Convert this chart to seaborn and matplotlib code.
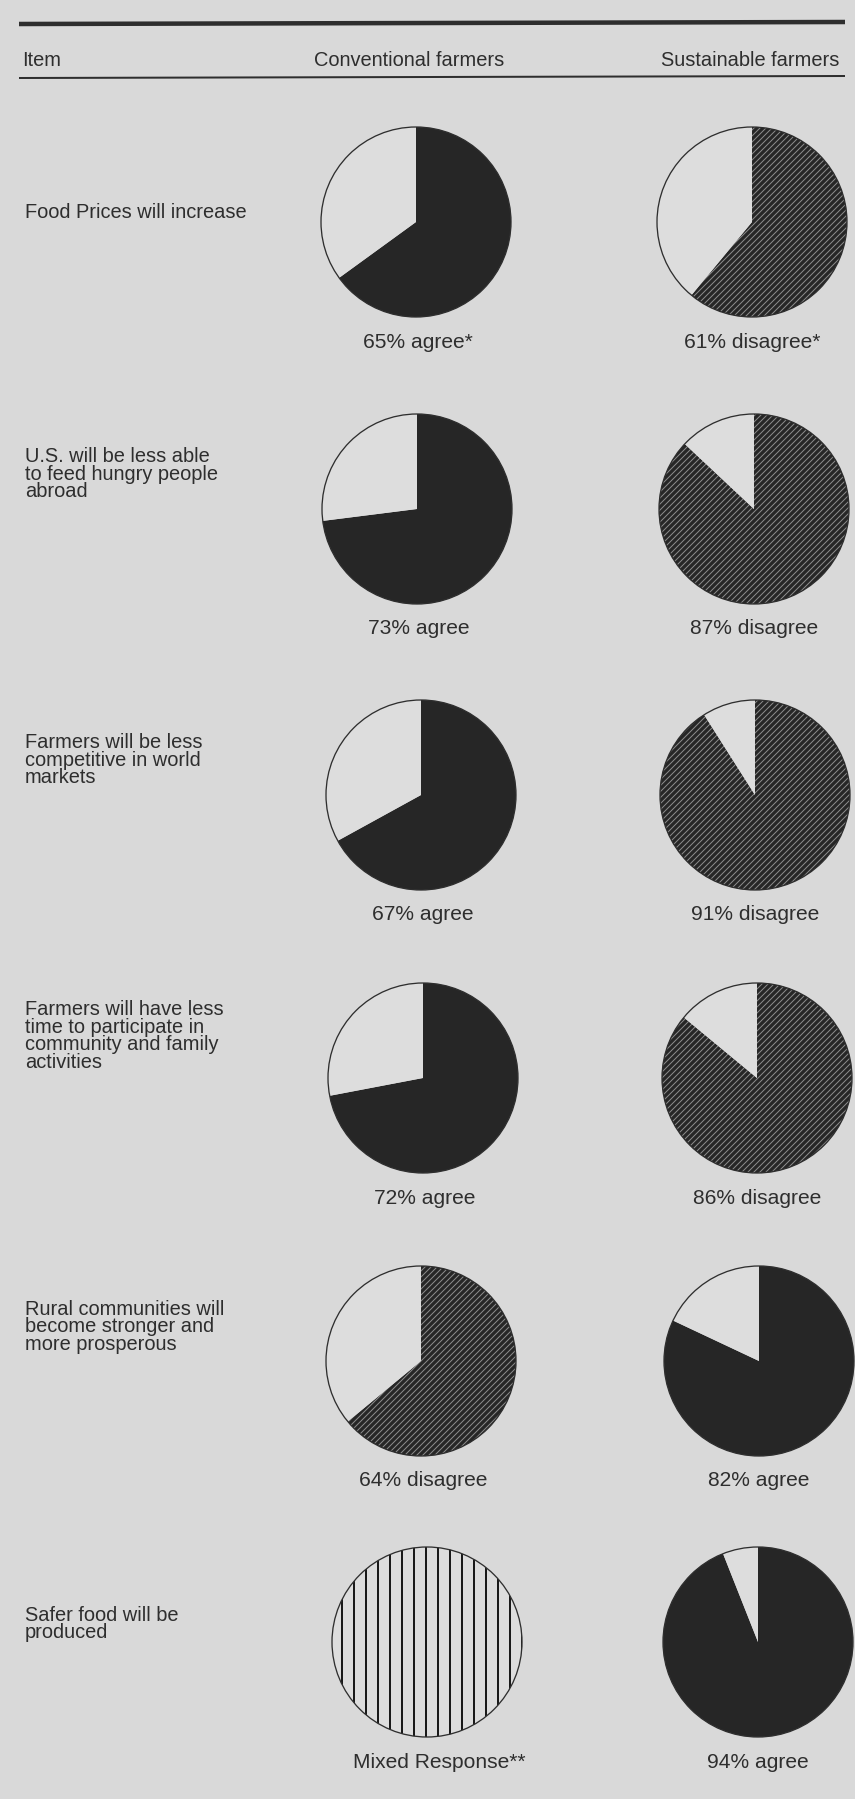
import matplotlib
matplotlib.use('Agg')
import matplotlib.pyplot as plt
import seaborn as sns

# ---- data ----
headers = ['Item', 'Conventional farmers', 'Sustainable farmers']
items = [
    'Food Prices will increase',
    'U.S. will be less able\nto feed hungry people\nabroad',
    'Farmers will be less\ncompetitive in world\nmarkets',
    'Farmers will have less\ntime to participate in\ncommunity and family\nactivities',
    'Rural communities will\nbecome stronger and\nmore prosperous',
    'Safer food will be\nproduced',
]
conv_pct = [65, 73, 67, 72, 64, 100]
conv_resp = ['agree', 'agree', 'agree', 'agree', 'disagree', 'mixed']
conv_text = ['65% agree*', '73% agree', '67% agree', '72% agree',
             '64% disagree', 'Mixed Response**']
sust_pct = [61, 87, 91, 86, 82, 94]
sust_resp = ['disagree', 'disagree', 'disagree', 'disagree', 'agree', 'agree']
sust_text = ['61% disagree*', '87% disagree', '91% disagree', '86% disagree',
             '82% agree', '94% agree']

# ---- layout (pixels, measured from the top) ----
W, H = 855, 1799
row_y = [222, 509, 795, 1078, 1361, 1642]
item_y = [213, 474, 760, 1036, 1327, 1624]
conv_x = [416, 417, 421, 423, 421, 427]
sust_x = [752, 754, 755, 757, 759, 758]
R = 95
LABEL_GAP = 120

BG = '#d9d9d9'
PALE = '#dddddd'
DARK = '#262626'
INK = '#2e2e2e'

sns.set_style('white', {'axes.facecolor': BG, 'figure.facecolor': BG})
plt.rcParams['font.family'] = ['Liberation Sans', 'DejaVu Sans']

styles = {
    'agree': dict(facecolor=DARK, edgecolor=DARK, hatch=None, hlw=1.0),
    'disagree': dict(facecolor=DARK, edgecolor='#8c8c8c', hatch='////', hlw=1.0),
    'mixed': dict(facecolor=PALE, edgecolor='#1a1a1a', hatch='|', hlw=2.0),
}

fig = plt.figure(figsize=(W / 72, H / 72), dpi=72)
ax = fig.add_axes([0, 0, 1, 1])


def draw_pie(x, y, pct, resp):
    cy = H - y
    st = styles[resp]
    vals = [pct] if resp == 'mixed' else [pct, 100 - pct]
    with plt.rc_context({'hatch.linewidth': st['hlw']}):
        wedges, _ = ax.pie(vals, center=(x, cy), radius=R, startangle=90,
                           counterclock=False, frame=True,
                           wedgeprops=dict(linewidth=0))
        wedges[0].set_facecolor(st['facecolor'])
        wedges[0].set_edgecolor(st['edgecolor'])
        wedges[0].set_linewidth(0)
        if st['hatch']:
            wedges[0].set_hatch(st['hatch'])
    if len(wedges) > 1:
        wedges[1].set_facecolor(PALE)
        wedges[1].set_edgecolor(PALE)
    ax.add_patch(plt.Circle((x, cy), R, fill=False, edgecolor=INK, lw=1.3))


for i in range(len(items)):
    draw_pie(conv_x[i], row_y[i], conv_pct[i], conv_resp[i])
    draw_pie(sust_x[i], row_y[i], sust_pct[i], sust_resp[i])
    ax.text(25, H - item_y[i], items[i], fontsize=20, color=INK,
            ha='left', va='center', linespacing=0.9)
    ax.text(conv_x[i] + (12 if conv_resp[i] == 'mixed' else 2),
            H - row_y[i] - LABEL_GAP, conv_text[i], fontsize=21,
            color=INK, ha='center', va='center')
    ax.text(sust_x[i], H - row_y[i] - LABEL_GAP, sust_text[i],
            fontsize=21, color=INK, ha='center', va='center')

# header rules and column titles
ax.plot([19, 845], [H - 24, H - 22], color=INK, lw=4.5, solid_capstyle='butt')
ax.plot([19, 845], [H - 78, H - 76], color=INK, lw=2, solid_capstyle='butt')
ax.text(22, H - 61, headers[0], fontsize=20, color=INK, ha='left', va='center')
ax.text(409, H - 61, headers[1], fontsize=20, color=INK, ha='center', va='center')
ax.text(750, H - 61, headers[2], fontsize=20, color=INK, ha='center', va='center')

ax.set_xlim(0, W)
ax.set_ylim(0, H)
ax.set_aspect('equal')
ax.axis('off')

fig.savefig('out.png', dpi=72, facecolor=BG)
